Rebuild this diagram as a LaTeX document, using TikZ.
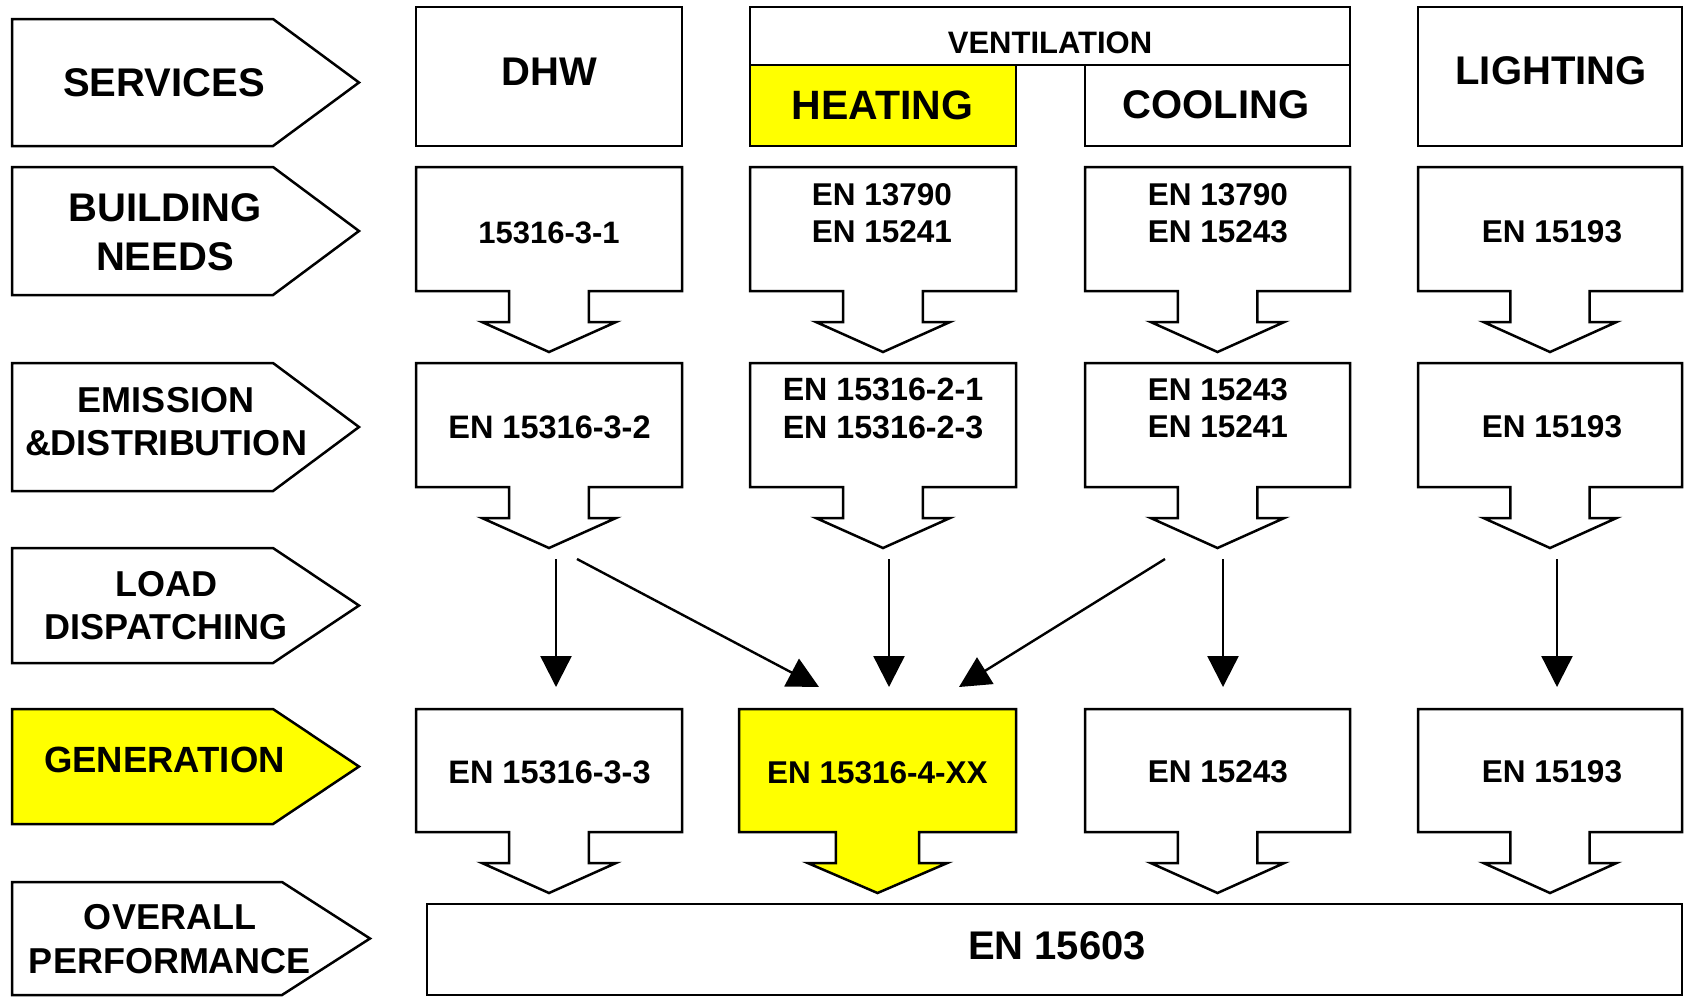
\documentclass[tikz,border=0pt]{standalone}
\usepackage{fontspec}
\setmainfont{Liberation Sans}
\usetikzlibrary{arrows.meta}
\definecolor{hl}{HTML}{FFFF00}
\tikzset{
  shapeline/.style={draw=black, line width=2.5pt, line join=miter},
  lbl/.style={inner sep=0pt, align=center},
  link/.style={draw=black, line width=2.4pt, -{Triangle[length=31pt,width=31pt]}},
}
\newcommand\fs[2]{\fontsize{#1}{#2}\selectfont\bfseries}
% pentagon label: [fill]{top}{bottom}{shoulder x}{tip x}
\newcommand\pent[5][white]{%
  \draw[shapeline, fill=#1] (12,#2) -- (#4,#2) -- (#5,{(#2+#3)/2}) -- (#4,#3) -- (12,#3) -- cycle;}
% box with block arrow: [fill]{left}{right}{top}{bottom}
\newcommand\barrow[5][white]{%
  \draw[shapeline, fill=#1] (#2,#4) -- (#3,#4) -- (#3,#5)
    -- ({(#2+#3)/2+0.15*(#3-#2)},#5) -- ({(#2+#3)/2+0.15*(#3-#2)},{#5+31})
    -- ({(#2+#3)/2+0.252*(#3-#2)},{#5+31}) -- ({(#2+#3)/2},{#5+61})
    -- ({(#2+#3)/2-0.252*(#3-#2)},{#5+31}) -- ({(#2+#3)/2-0.15*(#3-#2)},{#5+31})
    -- ({(#2+#3)/2-0.15*(#3-#2)},#5) -- (#2,#5) -- cycle;}
\begin{document}
\begin{tikzpicture}[x=1pt, y=-1pt]
\useasboundingbox (0,0) rectangle (1684,997);
\fill[white] (0,0) rectangle (1684,997);

% ---- left column labels
\pent{19}{146}{273}{359}
\pent{167}{295}{273}{359}
\pent{363}{491}{273}{359}
\pent{548}{663}{273}{359}
\pent[hl]{709}{824}{273}{359}
\pent{882}{995}{282}{370}
\node[lbl, font=\fs{40}{49}] (services) at (164,82.5) {SERVICES};
\node[lbl, font=\fs{40}{49}] (needs) at (165,232) {BUILDING\\NEEDS};
\node[lbl, font=\fs{36}{43}] (emission) at (166,422) {EMISSION\\\&DISTRIBUTION};
\node[lbl, font=\fs{36}{43}] (load) at (166,606) {LOAD\\DISPATCHING};
\node[lbl, font=\fs{36.5}{44}] (generation) at (164.5,760) {GENERATION};
\node[lbl, font=\fs{36}{44}] (overall) at (170,939.5) {OVERALL\\PERFORMANCE};

% ---- row 1: services
\draw[shapeline, fill=white] (416,7) rectangle (682,146);
\draw[shapeline, fill=white] (750,7) rectangle (1350,65);
\draw[shapeline, fill=hl] (750,65) rectangle (1016,146);
\draw[shapeline, fill=white] (1085,65) rectangle (1350,146);
\draw[shapeline, fill=white] (1418,7) rectangle (1682,146);
\node[lbl, font=\fs{40}{48}] (dhw) at (549,71.3) {DHW};
\node[lbl, font=\fs{31}{37}] (vent) at (1050,42.8) {VENTILATION};
\node[lbl, font=\fs{41}{48}] (heating) at (882.5,105.3) {HEATING};
\node[lbl, font=\fs{40}{48}] (cooling) at (1216,105) {COOLING};
\node[lbl, font=\fs{40}{48}] (lighting) at (1551,71) {LIGHTING};

% ---- row 2: building needs
\barrow{416}{682}{167}{291}
\barrow{750}{1016}{167}{291}
\barrow{1085}{1350}{167}{291}
\barrow{1418}{1682}{167}{291}
\node[lbl, font=\fs{31}{37}] (bn1) at (549,232.8) {15316-3-1};
\node[lbl, font=\fs{31.5}{37}] (bn2) at (882,213) {EN 13790\\EN 15241};
\node[lbl, font=\fs{31.5}{37}] (bn3) at (1218,213) {EN 13790\\EN 15243};
\node[lbl, font=\fs{31.5}{37}] (bn4) at (1552,231.7) {EN 15193};

% ---- row 3: emission & distribution
\barrow{416}{682}{363}{487}
\barrow{750}{1016}{363}{487}
\barrow{1085}{1350}{363}{487}
\barrow{1418}{1682}{363}{487}
\node[lbl, font=\fs{32.5}{38}] (ed1) at (549.5,427) {EN 15316-3-2};
\node[lbl, font=\fs{32.2}{38}] (ed2) at (883,408) {EN 15316-2-1\\EN 15316-2-3};
\node[lbl, font=\fs{31.5}{37}] (ed3) at (1218,408) {EN 15243\\EN 15241};
\node[lbl, font=\fs{31.5}{37}] (ed4) at (1552,427) {EN 15193};

% ---- row 5: generation
\barrow{416}{682}{709}{832}
\barrow[hl]{739}{1016}{709}{832}
\barrow{1085}{1350}{709}{832}
\barrow{1418}{1682}{709}{832}
\node[lbl, font=\fs{32.5}{38}] (g1) at (549.5,772.5) {EN 15316-3-3};
\node[lbl, font=\fs{31.5}{37}] (g2) at (877.5,773) {EN 15316-4-XX};
\node[lbl, font=\fs{31.5}{37}] (g3) at (1218,772) {EN 15243};
\node[lbl, font=\fs{31.5}{37}] (g4) at (1552,772) {EN 15193};

% ---- row 6: overall performance
\draw[shapeline, fill=white] (427,904) rectangle (1682,995);
\node[lbl, font=\fs{40}{48}] (op) at (1057,945.5) {EN 15603};

% ---- load dispatching arrows
\coordinate (s1) at (556,559);  \coordinate (e1) at (556,687);
\coordinate (s2) at (577,559);  \coordinate (e2) at (819,687);
\coordinate (s3) at (889,559);  \coordinate (e3) at (889,687);
\coordinate (s4) at (1165,559); \coordinate (e4) at (959,687);
\coordinate (s5) at (1223,559); \coordinate (e5) at (1223,687);
\coordinate (s6) at (1557,559); \coordinate (e6) at (1557,687);
\draw[link] (s1) -- (e1);
\draw[link] (s2) -- (e2);
\draw[link] (s3) -- (e3);
\draw[link] (s4) -- (e4);
\draw[link] (s5) -- (e5);
\draw[link] (s6) -- (e6);
\end{tikzpicture}
\end{document}
